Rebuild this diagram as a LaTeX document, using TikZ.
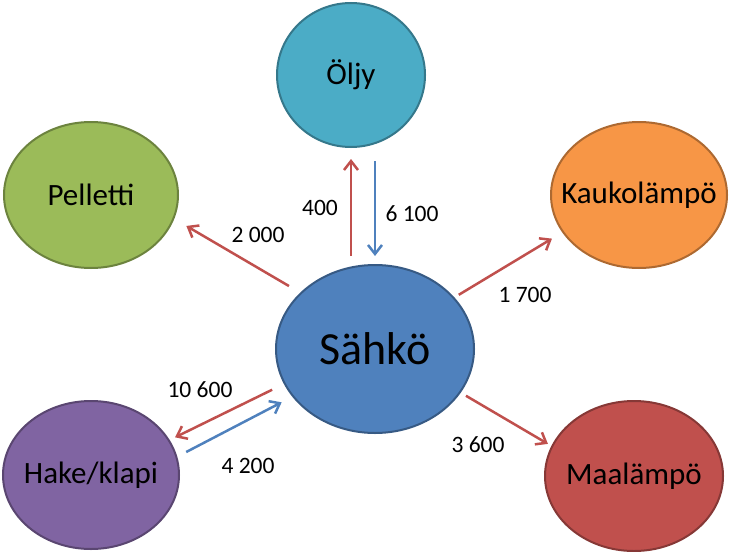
\documentclass[tikz,border=0pt]{standalone}
\usepackage{fontspec}
\setmainfont{Carlito}
\usetikzlibrary{
  arrows.meta,
  shapes.geometric
}
\definecolor{oilaqua}{RGB}{75,172,198}
\definecolor{pelletgreen}{RGB}{155,187,89}
\definecolor{districtorange}{RGB}{247,150,70}
\definecolor{powerblue}{RGB}{79,129,189}
\definecolor{chipspurple}{RGB}{128,100,162}
\definecolor{groundred}{RGB}{192,80,77}
\tikzset{
  source/.style={
    ellipse,
    draw=#1!70!black,
    fill=#1,
    line width=2pt,
    inner sep=0pt,
    text=black,
    font=\fontsize{31}{36}\selectfont,
    % text must not widen the ellipse
    execute at begin node={\hbox to 0pt\bgroup\hss},
    execute at end node={\hss\egroup}
  },
  outflow/.style={
    -{Straight Barb[length=9pt,width=14pt]},
    line width=2.5pt,
    draw=groundred
  },
  inflow/.style={
    -{Straight Barb[length=9pt,width=14pt]},
    line width=2.5pt,
    draw=powerblue
  },
  amount/.style={
    font=\fontsize{23.5}{27}\selectfont,
    inner sep=0pt
  }
}

\begin{document}
\begin{tikzpicture}[x=1pt,y=-1pt]
\useasboundingbox (0,0) rectangle (738,551);

% Energy sources.
\node[source=powerblue, minimum width=198pt, minimum height=168pt,
  font=\fontsize{46}{52}\selectfont] (sahko) at (375,349) {Sähkö};
\node[source=oilaqua, minimum width=148pt, minimum height=144pt] (oljy) at (351,75) {Öljy};
\node[source=pelletgreen, minimum width=174pt, minimum height=146pt] (pelletti) at (91,195) {Pelletti};
\node[source=districtorange, minimum width=176pt, minimum height=146pt] (kauko) at (639,195) {Kaukolämpö};
\node[source=chipspurple, minimum width=176pt, minimum height=148pt] (hake) at (91,475) {Hake/klapi};
\node[source=groundred, minimum width=178pt, minimum height=150pt] (maa) at (634,476) {Maalämpö};

% Flows out of and into electricity.
\draw[outflow, shorten <=8pt, shorten >=11pt] ([xshift=-24pt]sahko.north) -- (oljy.south);
\draw[inflow, shorten <=13pt, shorten >=8pt] ([xshift=24pt]oljy.south) -- (sahko.north);
\draw[outflow, shorten <=13pt, shorten >=14pt] (sahko.143) -- (pelletti.-16);
\draw[outflow, shorten <=5pt, shorten >=12pt] (sahko.33) -- (kauko.206);
\draw[outflow, shorten <=6pt, shorten >=4pt] (sahko.-27) -- (maa.160);
\draw[outflow, shorten <=13pt, shorten >=6pt] (sahko.201) -- (hake.24);
\draw[inflow, shorten <=10pt, shorten >=12pt] (hake.12) -- (sahko.210);

% Amounts.
\node[amount] (n400) at (320,208) {400};
\node[amount] (n6100) at (412,214) {6 100};
\node[amount] (n2000) at (258,235) {2 000};
\node[amount] (n1700) at (525,295) {1 700};
\node[amount] (n10600) at (200,390) {10 600};
\node[amount] (n4200) at (248,466) {4 200};
\node[amount] (n3600) at (478,445) {3 600};

\end{tikzpicture}
\end{document}
